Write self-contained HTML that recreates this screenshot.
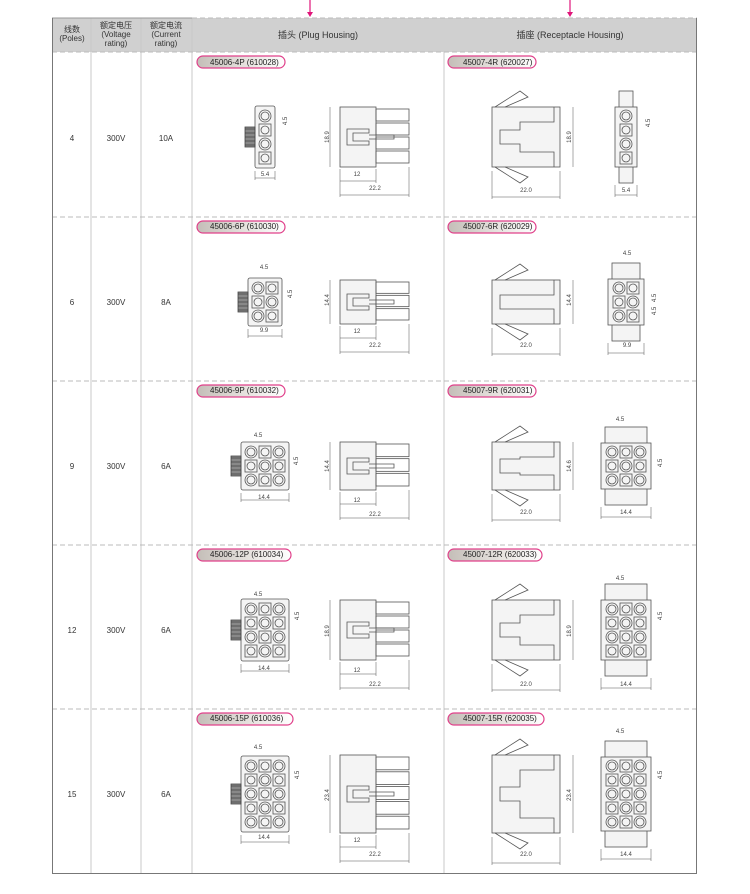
<!DOCTYPE html>
<html><head><meta charset="utf-8"><style>
body{margin:0;background:#fff;}
svg{display:block;font-family:"Liberation Sans","Noto Sans CJK SC",sans-serif;}
.t{font-size:8px;fill:#333;}
.p{font-size:8px;fill:#222;}
.d{font-size:6px;fill:#444;}
.h{font-size:9px;fill:#333;}
</style></head><body>
<svg id="s" width="750" height="894" viewBox="0 0 750 894" xmlns="http://www.w3.org/2000/svg">
<defs><linearGradient id="g" x1="0" x2="1" y1="0" y2="0"><stop offset="0" stop-color="#c4beb8"/><stop offset="0.55" stop-color="#e6e2de"/><stop offset="1" stop-color="#fff"/></linearGradient></defs>
<rect x="0" y="0" width="750" height="894" fill="#fff"/>
<rect x="52" y="18" width="645" height="34" fill="#d0d0d0"/>
<line x1="310" y1="0" x2="310" y2="14" stroke="#e0157a" stroke-width="1.2"/>
<polygon points="307,12 313,12 310,17" fill="#e0157a"/>
<line x1="570" y1="0" x2="570" y2="14" stroke="#e0157a" stroke-width="1.2"/>
<polygon points="567,12 573,12 570,17" fill="#e0157a"/>
<g stroke="#c8c8c8" stroke-width="1">
<line x1="91" y1="18" x2="91" y2="873"/><line x1="141" y1="18" x2="141" y2="873"/><line x1="192" y1="18" x2="192" y2="873"/><line x1="444" y1="52" x2="444" y2="873"/>
</g>
<g stroke="#bbb" stroke-width="1" stroke-dasharray="5,3">
<line x1="192" y1="18" x2="697" y2="18"/><line x1="52" y1="52" x2="697" y2="52"/>
<line x1="52" y1="217" x2="697" y2="217"/><line x1="52" y1="381" x2="697" y2="381"/><line x1="52" y1="545" x2="697" y2="545"/><line x1="52" y1="709" x2="697" y2="709"/>
</g>
<line x1="52" y1="18" x2="192" y2="18" stroke="#999"/>
<line x1="52.5" y1="18" x2="52.5" y2="874" stroke="#777"/>
<line x1="696.5" y1="18" x2="696.5" y2="874" stroke="#777"/>
<line x1="52" y1="873.5" x2="697" y2="873.5" stroke="#777"/>
<g class="t" text-anchor="middle">
<text x="72" y="32">线数</text><text x="72" y="41">(Poles)</text>
<text x="116" y="28">额定电压</text><text x="116" y="37">(Voltage</text><text x="116" y="46">rating)</text>
<text x="166" y="28">额定电流</text><text x="166" y="37">(Current</text><text x="166" y="46">rating)</text>
<text class="h" x="318" y="38">插头 (Plug Housing)</text>
<text class="h" x="570" y="38">插座 (Receptacle Housing)</text>
<text x="72" y="141">4</text><text x="116" y="141">300V</text><text x="166" y="141">10A</text>
<text x="72" y="305">6</text><text x="116" y="305">300V</text><text x="166" y="305">8A</text>
<text x="72" y="469">9</text><text x="116" y="469">300V</text><text x="166" y="469">6A</text>
<text x="72" y="633">12</text><text x="116" y="633">300V</text><text x="166" y="633">6A</text>
<text x="72" y="797">15</text><text x="116" y="797">300V</text><text x="166" y="797">6A</text>
</g>
<g id="pills"></g>
<g class="p">
<text x="210" y="65">45006-4P (610028)</text><text x="463" y="65">45007-4R (620027)</text>
<text x="210" y="229">45006-6P (610030)</text><text x="463" y="229">45007-6R (620029)</text>
<text x="210" y="393">45006-9P (610032)</text><text x="463" y="393">45007-9R (620031)</text>
<text x="210" y="557">45006-12P (610034)</text><text x="463" y="557">45007-12R (620033)</text>
<text x="210" y="721">45006-15P (610036)</text><text x="463" y="721">45007-15R (620035)</text>
</g>
<g id="draw" fill="none" stroke="#555" stroke-width="0.8"></g>
<g class="d" text-anchor="middle">
<text x="265" y="176">5.4</text><text transform="translate(287,121) rotate(-90)">4.5</text>
<text transform="translate(329,137) rotate(-90)">18.9</text><text x="357" y="176">12</text><text x="375" y="190">22.2</text>
<text x="526" y="192">22.0</text><text transform="translate(571,137) rotate(-90)">18.9</text>
<text x="626" y="192">5.4</text><text transform="translate(650,123) rotate(-90)">4.5</text>
<text x="264" y="332">9.9</text><text x="264" y="269">4.5</text><text transform="translate(292,294) rotate(-90)">4.5</text>
<text transform="translate(329,300) rotate(-90)">14.4</text><text x="357" y="333">12</text><text x="375" y="347">22.2</text>
<text x="526" y="347">22.0</text><text transform="translate(571,300) rotate(-90)">14.4</text>
<text x="627" y="347">9.9</text><text x="627" y="255">4.5</text><text transform="translate(656,298) rotate(-90)">4.5</text><text transform="translate(656,311) rotate(-90)">4.5</text>
<text x="264" y="499">14.4</text><text x="258" y="437">4.5</text><text transform="translate(298,461) rotate(-90)">4.5</text>
<text transform="translate(329,466) rotate(-90)">14.4</text><text x="357" y="502">12</text><text x="375" y="516">22.2</text>
<text x="526" y="514">22.0</text><text transform="translate(571,466) rotate(-90)">14.6</text>
<text x="626" y="514">14.4</text><text x="620" y="421">4.5</text><text transform="translate(662,463) rotate(-90)">4.5</text>
<text x="264" y="670">14.4</text><text x="258" y="596">4.5</text><text transform="translate(299,616) rotate(-90)">4.5</text>
<text transform="translate(329,631) rotate(-90)">18.9</text><text x="357" y="672">12</text><text x="375" y="686">22.2</text>
<text x="526" y="686">22.0</text><text transform="translate(571,631) rotate(-90)">18.9</text>
<text x="626" y="686">14.4</text><text x="620" y="580">4.5</text><text transform="translate(662,616) rotate(-90)">4.5</text>
<text x="264" y="839">14.4</text><text x="258" y="749">4.5</text><text transform="translate(299,775) rotate(-90)">4.5</text>
<text transform="translate(329,795) rotate(-90)">23.4</text><text x="357" y="842">12</text><text x="375" y="856">22.2</text>
<text x="526" y="856">22.0</text><text transform="translate(571,795) rotate(-90)">23.4</text>
<text x="626" y="856">14.4</text><text x="620" y="733">4.5</text><text transform="translate(662,775) rotate(-90)">4.5</text>
</g>
</svg>
<script>
(function(){
var NS="http://www.w3.org/2000/svg";
function el(p,tag,a){var e=document.createElementNS(NS,tag);for(var k in a)e.setAttribute(k,a[k]);p.appendChild(e);return e;}
var P=document.getElementById('pills'),D=document.getElementById('draw');
var tops=[52,217,381,545,709];
var cfg=[{c:1,r:4,h:60},{c:2,r:3,h:44},{c:3,r:3,h:48},{c:3,r:4,h:60},{c:3,r:5,h:78}];
var pw=[88,88,88,94,96];
tops.forEach(function(t,i){
 [197,448].forEach(function(x){
  el(P,'rect',{x:x,y:t+4,width:pw[i],height:12,rx:6,fill:'url(#g)',stroke:'#e0408a','stroke-width':1.2});
 });
 var C=cfg[i],cy=t+85,pitch=14;
 var fw=C.c*pitch+6,fh=C.r*pitch+6,fx=265-fw/2,fy=cy-fh/2;
 el(D,'rect',{x:fx,y:fy,width:fw,height:fh,rx:2,fill:'#f4f4f4'});
 el(D,'rect',{x:fx-10,y:cy-10,width:10,height:20,fill:'#888',stroke:'#444'});
 for(var q=0;q<5;q++)el(D,'line',{x1:fx-10,y1:cy-8+q*4,x2:fx,y2:cy-8+q*4,stroke:'#333','stroke-width':0.6});
 for(var a=0;a<C.c;a++)for(var b=0;b<C.r;b++){
  var hx=fx+3+a*pitch+7,hy=fy+3+b*pitch+7;
  if((a+b)%2==0){el(D,'circle',{cx:hx,cy:hy,r:6});el(D,'circle',{cx:hx,cy:hy,r:4});}
  else{el(D,'rect',{x:hx-6,y:hy-6,width:12,height:12});el(D,'circle',{cx:hx,cy:hy,r:4});}
 }
 el(D,'path',{d:'M'+fx+' '+(fy+fh+3)+'V'+(fy+fh+12)+'M'+(fx+fw)+' '+(fy+fh+3)+'V'+(fy+fh+12)+'M'+fx+' '+(fy+fh+10)+'H'+(fx+fw),'stroke-width':0.5});
 var h=C.h,sy=cy-h/2;
 el(D,'rect',{x:340,y:sy,width:36,height:h,fill:'#f4f4f4'});
 var np=C.r, ph=(h-4)/np;
 for(var k=0;k<np;k++)el(D,'rect',{x:376,y:sy+2+k*ph,width:33,height:ph-2});
 el(D,'path',{d:'M347 '+(cy-8)+'h22v4h-16v8h16v4h-22z M369 '+(cy-2)+'h25v4h-25'});
 el(D,'path',{d:'M330 '+sy+'V'+(sy+h)+' M340 '+(sy+h+2)+'V'+(sy+h+30)+' M376 '+(sy+h+2)+'V'+(sy+h+16)+' M409 '+(sy+h)+'V'+(sy+h+30)+' M340 '+(sy+h+14)+'H376 M340 '+(sy+h+28)+'H409','stroke-width':0.5});
 el(D,'rect',{x:492,y:sy,width:68,height:h,fill:'#f4f4f4'});
 el(D,'path',{d:'M495 '+sy+'L520 '+(sy-16)+'L528 '+(sy-10)+'L505 '+sy+' M495 '+(sy+h)+'L520 '+(sy+h+16)+'L528 '+(sy+h+10)+'L505 '+(sy+h)});
 el(D,'path',{d:'M554 '+sy+'V'+(sy+15)+'H520V'+(cy-7)+'H500V'+(cy+7)+'H520V'+(sy+h-15)+'H554V'+(sy+h)});
 el(D,'path',{d:'M492 '+(sy+h+30)+'H560 M492 '+(sy+h+4)+'V'+(sy+h+32)+' M560 '+(sy+h+4)+'V'+(sy+h+32)+' M573 '+sy+'V'+(sy+h),'stroke-width':0.5});
 var rw=C.c*pitch+8,rh=C.r*pitch+4,rx=626-rw/2,ry=cy-rh/2;
 el(D,'rect',{x:rx+4,y:ry-16,width:rw-8,height:rh+32,fill:'#f4f4f4'});
 el(D,'rect',{x:rx,y:ry,width:rw,height:rh,fill:'#f4f4f4'});
 for(var a=0;a<C.c;a++)for(var b=0;b<C.r;b++){
  var hx=rx+4+a*pitch+7,hy=ry+2+b*pitch+7;
  if((a+b)%2==0){el(D,'circle',{cx:hx,cy:hy,r:6});el(D,'circle',{cx:hx,cy:hy,r:4});}
  else{el(D,'rect',{x:hx-6,y:hy-6,width:12,height:12});el(D,'circle',{cx:hx,cy:hy,r:4});}
 }
 el(D,'path',{d:'M'+rx+' '+(ry+rh+18)+'V'+(ry+rh+30)+'M'+(rx+rw)+' '+(ry+rh+18)+'V'+(ry+rh+30)+'M'+rx+' '+(ry+rh+28)+'H'+(rx+rw),'stroke-width':0.5});
});
})();
</script>
</body></html>
